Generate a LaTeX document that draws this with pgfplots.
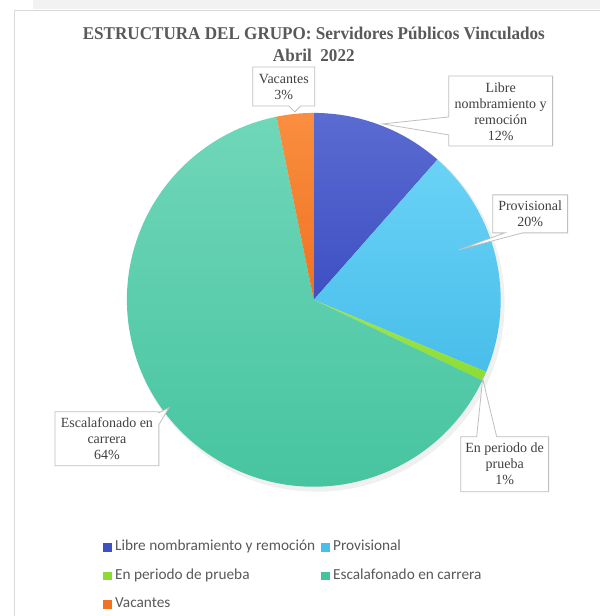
\documentclass[border=0pt]{standalone}
\usepackage{fontspec}
\setmainfont{Liberation Serif}
\newfontfamily\legendfam{Carlito}
\newfontfamily\labelfam{Liberation Serif}
\newfontfamily\titlefam[FakeStretch=0.95]{Liberation Serif}
\usepackage{pgfplots}
\usepackage{pgfplotstable}
\pgfplotsset{compat=1.18}

\definecolor{titlegray}{HTML}{595959}
\definecolor{labelgray}{HTML}{404040}
\definecolor{boxgray}{HTML}{BFBFBF}
\definecolor{framegray}{HTML}{D9D9D9}
\definecolor{libreT}{HTML}{5A6BD2}
\definecolor{libreB}{HTML}{3E50C2}
\definecolor{provT}{HTML}{6AD2F6}
\definecolor{provB}{HTML}{48BEEA}
\definecolor{prueT}{HTML}{A0E64A}
\definecolor{prueB}{HTML}{8CDC34}
\definecolor{escaT}{HTML}{70D7B9}
\definecolor{escaB}{HTML}{44C39E}
\definecolor{vacaT}{HTML}{FA8E40}
\definecolor{vacaB}{HTML}{F07222}

\pgfplotstableread{
name value
Libre 11.5
Provisional 19.8
Prueba 0.8
Escalafonado 64.7
Vacantes 3.2
}\pietable

\newcommand\angS[1]{\csname angS#1\endcsname}
\newcommand\angE[1]{\csname angE#1\endcsname}
\newcommand\slice[3]{%
  \shade[top color=#2, bottom color=#3] (314,300) -- ++(\angS{#1}:187pt)
    arc[start angle=\angS{#1}, end angle=\angE{#1}, radius=187pt] -- cycle;}

\begin{document}
\begin{tikzpicture}
% cumulative angles from the data (start at 90 deg, clockwise)
\def\cum{90}
\pgfplotsforeachungrouped \i in {0,...,4}{%
  \pgfplotstablegetelem{\i}{value}\of\pietable
  \pgfmathsetmacro\nxt{\cum-3.6*\pgfplotsretval}%
  \expandafter\let\csname angS\i\endcsname\cum
  \expandafter\let\csname angE\i\endcsname\nxt
  \let\cum\nxt
}
\begin{axis}[
  width=600pt, height=616pt, scale only axis,
  xmin=0, xmax=600, ymin=0, ymax=616, y dir=reverse,
  hide axis, clip=false,
  legend style={at={(axis cs:97,540)}, anchor=north west, draw=none, fill=none,
    font=\legendfam\fontsize{15.3}{18}\selectfont, text=titlegray,
    nodes={inner sep=0pt, text height=11pt, text depth=4pt},
    column sep=0pt,
    row sep=13.5pt, inner sep=0pt},
  legend columns=2, legend cell align=left,
  legend image code/.code={\path[draw=none, fill=none] (-6pt,0pt) -- (12pt,0pt);
     \fill[#1, draw=none] (0pt,-4.2pt) rectangle (8.5pt,4.2pt);},
]
% background & frame
\fill[white] (0,0) rectangle (600,616);
\fill[black!5] (33,0) rectangle (600,9);
\draw[framegray, line width=0.8pt] (14,616) -- (14,10) -- (600,10);

% shadow
\fill[black!12] (316,302.5) circle[radius=188pt];
\fill[black!6] (317,304) circle[radius=188pt];

% slices
\slice{0}{libreT}{libreB}
\slice{1}{provT}{provB}
\slice{2}{prueT}{prueB}
\slice{3}{escaT}{escaB}
\slice{4}{vacaT}{vacaB}

% title
\node[font=\titlefam\bfseries\fontsize{18}{22}\selectfont, text=titlegray, align=center] at (314,44) {ESTRUCTURA DEL GRUPO: Servidores Públicos Vinculados\\Abril\ \ 2022};

% callouts
\tikzset{callout/.style={draw=boxgray, fill=white, line width=0.8pt, line join=miter}}
\tikzset{lbl/.style={font=\labelfam\fontsize{14}{16}\selectfont, text=labelgray, align=center}}
\draw[callout] (253,67) -- (315,67) -- (315,106) -- (301,106) -- (295,112) -- (289,106) -- (253,106) -- cycle;
\node[lbl] at (284,87) {Vacantes\\3\%};

\draw[callout] (449,76) -- (553,76) -- (553,146) -- (449,146) -- (449,135) -- (383,124) -- (449,117) -- cycle;
\node[lbl] at (501,111.5) {Libre\\nombramiento y\\remoción\\12\%};

\draw[callout] (493,195) -- (568,195) -- (568,233) -- (523,233) -- (459,250) -- (505,233) -- (493,233) -- cycle;
\node[lbl] at (530.5,214) {Provisional\\20\%};

\draw[callout] (461,437) -- (477,437) -- (483,379) -- (497,437) -- (549,437) -- (549,492) -- (461,492) -- cycle;
\node[lbl] at (505,464.5) {En periodo de\\prueba\\1\%};

\draw[callout] (55,412) -- (159,412) -- (159,413) -- (169,408) -- (159,425) -- (159,466) -- (55,466) -- cycle;
\node[lbl] at (107,439) {Escalafonado en\\carrera\\64\%};

% legend
\addlegendimage{fill=libreB}\addlegendentry{Libre nombramiento y remoción}
\addlegendimage{fill=provB}\addlegendentry{Provisional}
\addlegendimage{fill=prueB}\addlegendentry{En periodo de prueba}
\addlegendimage{fill=escaB}\addlegendentry{Escalafonado en carrera}
\addlegendimage{fill=vacaB}\addlegendentry{Vacantes}
\end{axis}
\end{tikzpicture}
\end{document}
